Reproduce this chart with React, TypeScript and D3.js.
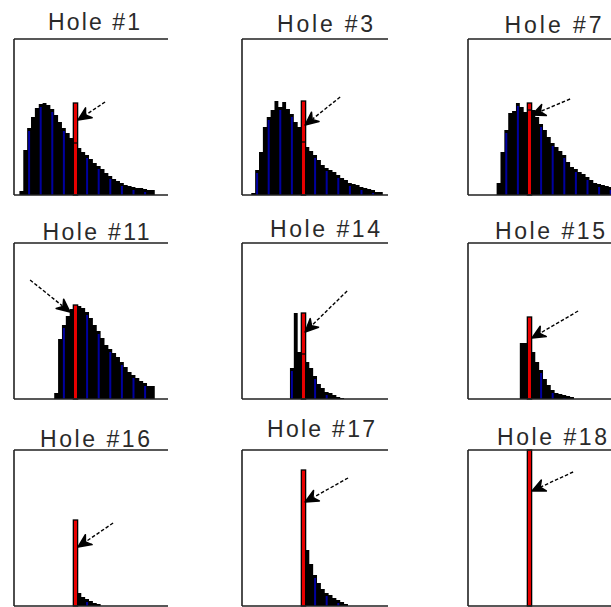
import React from 'react';
import * as d3 from 'd3';

// Panel titles, in reading order (3 x 3 grid)
const holeNames = [
  'Hole #1', 'Hole #3', 'Hole #7',
  'Hole #11', 'Hole #14', 'Hole #15',
  'Hole #16', 'Hole #17', 'Hole #18',
];

// Frequency of each fine bin. Bin k is centred on u = -1 + k/3,
// so whole values of u fall on bins 0, 3, 6, ...
const hole1 = [0, 4, 45, 67, 78, 87, 91, 92, 90, 86, 80, 73, 67, 62, 57, 52, 47, 43, 40, 36, 32, 29, 26, 22, 19, 16, 14, 12, 10, 9, 8, 7, 7, 6, 5, 5];
const hole3 = [0, 0, 2, 25, 43, 68, 78, 85, 94, 88, 93, 86, 81, 73, 68, 53, 48, 44, 40, 35, 30, 27, 25, 23, 20, 17, 15, 12, 11, 10, 8, 7, 6, 5, 3, 3];
const hole7 = [0, 0, 0, 0, 0, 0, 0, 12, 43, 65, 82, 84, 92, 88, 83, 85, 85, 78, 71, 65, 58, 52, 48, 44, 40, 33, 28, 26, 23, 21, 18, 15, 12, 11, 10, 9, 8];
const hole11 = [0, 0, 0, 0, 0, 0, 0, 0, 0, 0, 6, 60, 74, 83, 90, 94, 93, 91, 87, 81, 74, 68, 61, 54, 50, 46, 42, 37, 32, 27, 24, 21, 18, 16, 13, 13];
const hole14 = [0, 0, 0, 0, 0, 0, 0, 0, 0, 0, 0, 0, 31, 86, 47, 45, 37, 31, 23, 15, 11, 7, 6, 4, 2, 1];
const hole15 = [0, 0, 0, 0, 0, 0, 0, 0, 0, 0, 0, 0, 0, 56, 56, 82, 47, 37, 29, 20, 14, 9, 6, 5, 4, 3, 2];
const hole16 = [0, 0, 0, 0, 0, 0, 0, 0, 0, 0, 0, 0, 0, 0, 0, 86, 13, 9, 7, 5, 3, 2];
const hole17 = [0, 0, 0, 0, 0, 0, 0, 0, 0, 0, 0, 0, 0, 0, 0, 136, 56, 42, 31, 23, 17, 13, 11, 8, 6, 4, 2];
const hole18 = [0, 0, 0, 0, 0, 0, 0, 0, 0, 0, 0, 0, 0, 0, 0, 156];

const histograms = [hole1, hole3, hole7, hole11, hole14, hole15, hole16, hole17, hole18];

// Value marked by the red bar in every panel
const markerValue = 4;

// Pointer arrows, as [u, frequency] for the tail and the tip
const arrowTails: [number, number][] = [
  [6.55, 93], [7.16, 98], [7.5, 96],
  [0.09, 119], [7.76, 108], [8.19, 88],
  [7.24, 83], [7.84, 128], [7.76, 134],
];
const arrowTips: [number, number][] = [
  [4.22, 75], [4.14, 70], [4.22, 80],
  [3.53, 87], [4.14, 67], [4.22, 61],
  [4.22, 59], [4.14, 104], [4.22, 115],
];

// Grid layout
const W = 611;
const H = 607;
const colLeft = [14, 242, 468];
const colFrameWidth = [154, 146, 150];
const rowBase = [195, 399, 606];
const frameH = 156;
const uDomain: [number, number] = [-1.3, 12];
const uSpan = 154.3;

const titleCx = [94, 325, 553, 96, 325, 550, 95, 321, 552];
const titleBase = [30, 32, 33, 240, 237, 239, 447, 437, 445];
const titleLen = [92, 96, 97, 107, 110, 110, 110, 108, 110];

const BIN = 1 / 3;
const binCentre = (k: number) => -1 + k * BIN;

function Arrow({ x1, y1, x2, y2 }: { x1: number; y1: number; x2: number; y2: number }) {
  const dx = x2 - x1;
  const dy = y2 - y1;
  const len = Math.hypot(dx, dy);
  const ux = dx / len;
  const uy = dy / len;
  const headL = 13;
  const headW = 6;
  const bx = x2 - ux * headL;
  const by = y2 - uy * headL;
  const px = -uy;
  const py = ux;
  const head = `M${x2},${y2}L${bx + px * headW},${by + py * headW}L${bx + ux * 4},${by + uy * 4}L${bx - px * headW},${by - py * headW}Z`;
  return (
    <g>
      <line x1={x1} y1={y1} x2={bx + ux * 3} y2={by + uy * 3} stroke="#000" strokeWidth={1.4} strokeDasharray="3.5,2" />
      <path d={head} fill="#000" stroke="#000" strokeWidth={1.5} strokeLinejoin="round" />
    </g>
  );
}

function Panel({ index }: { index: number }) {
  const col = index % 3;
  const row = Math.floor(index / 3);
  const left = colLeft[col];
  const right = left + colFrameWidth[col];
  const base = rowBase[row];
  const top = base - frameH;
  const bins = histograms[index];

  const x = d3.scaleLinear().domain(uDomain).range([left, left + uSpan]);
  const y = d3.scaleLinear().domain([0, frameH]).range([base, top]);

  const pts = bins.map((v, k) => ({ u: binCentre(k) - BIN / 2, v }));
  pts.push({ u: binCentre(bins.length) - BIN / 2, v: bins[bins.length - 1] });
  const area = d3
    .area<{ u: number; v: number }>()
    .x((d) => x(d.u))
    .y0(y(0))
    .y1((d) => y(d.v))
    .curve(d3.curveStepAfter);

  const blueLines: { u: number; v: number }[] = [];
  for (let u = 0; u <= 12; u++) {
    const k = Math.round((u + 1) / BIN);
    if (u === markerValue || k >= bins.length) continue;
    if (bins[k] > 3) blueLines.push({ u, v: bins[k] - 3 });
  }

  const peak = d3.max(bins) as number;
  const mx = x(markerValue);
  const under = bins[Math.round((markerValue + 1) / BIN)] ?? 0;

  const [tu, tv] = arrowTails[index];
  const [hu, hv] = arrowTips[index];

  return (
    <g>
      <path d={area(pts) ?? ''} fill="#000" />
      {blueLines.map((b) => (
        <line key={b.u} x1={x(b.u)} x2={x(b.u)} y1={y(0)} y2={y(b.v)} stroke="#0000a0" strokeWidth={2} />
      ))}
      <rect x={mx - 2.15} width={4.3} y={y(peak)} height={y(0) - y(peak)} fill="#e80000" stroke="#000" strokeWidth={1.3} />
      {under > 0 && under < peak && (
        <line x1={mx - 1.6} x2={mx + 1.6} y1={y(under)} y2={y(under)} stroke="#000" strokeWidth={1.2} />
      )}
      <path
        d={`M${left},${top}H${right}M${left},${top}V${base}M${left},${base}H${right}`}
        fill="none"
        stroke="#222"
        strokeWidth={1.6}
      />
      <Arrow x1={x(tu)} y1={y(tv)} x2={x(hu)} y2={y(hv)} />
      <text
        x={titleCx[index]}
        y={titleBase[index]}
        textAnchor="middle"
        textLength={titleLen[index]}
        lengthAdjust="spacing"
        fontFamily="'Liberation Sans', Arial, sans-serif"
        fontSize={23}
        fill="#2a2a2a"
      >
        {holeNames[index]}
      </text>
    </g>
  );
}

export default function App() {
  return (
    <svg
      width={W}
      height={H}
      viewBox={`0 0 ${W} ${H}`}
      style={{ position: 'absolute', left: 0, top: 0, display: 'block', background: '#fff' }}
    >
      <rect width={W} height={H} fill="#fff" />
      {holeNames.map((_, i) => (
        <Panel key={i} index={i} />
      ))}
    </svg>
  );
}
